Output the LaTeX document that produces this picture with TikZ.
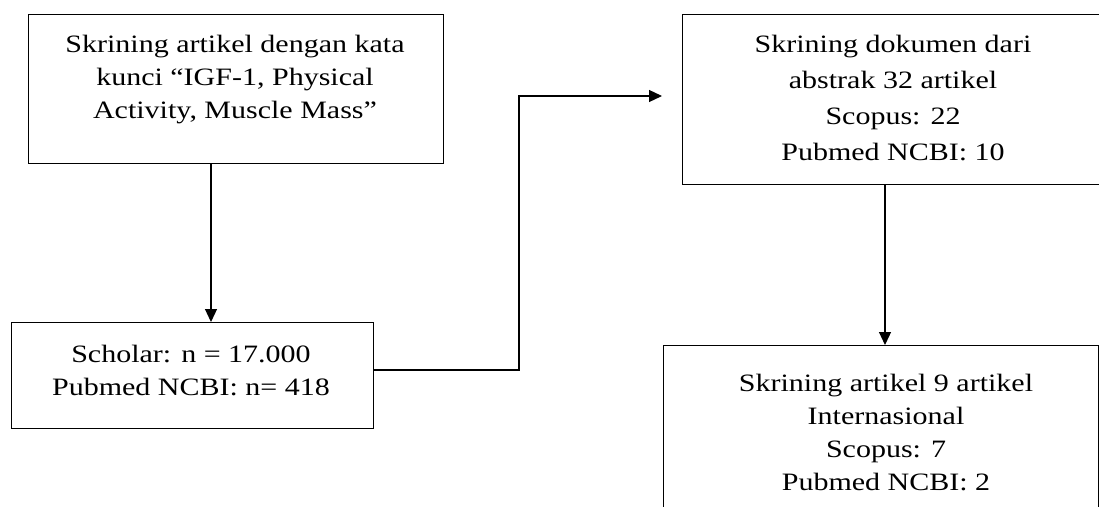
\documentclass[tikz,border=0pt]{standalone}
\usepackage{fontspec}
\setmainfont{Liberation Serif}[FakeStretch=1.2]
\usetikzlibrary{arrows.meta}
\begin{document}
\begin{tikzpicture}[x=1pt,y=-1pt,
  boxed/.style={draw, line width=1.2pt, rectangle, anchor=north west, inner sep=0pt},
  txt/.style={align=center, font=\fontsize{25}{33}\selectfont, inner sep=0pt},
  arr/.style={draw, line width=1.2pt, -{Triangle[length=13pt,width=12pt]}},
  conn/.style={draw, line width=1.2pt}]
\clip (0,0) rectangle (1099,506);
% boxes
\node[boxed, minimum width=415pt, minimum height=149pt] (b1) at (28,14) {};
\node[boxed, minimum width=362pt, minimum height=106pt] (b2) at (11,322) {};
\node[boxed, minimum width=424pt, minimum height=170pt] (b3) at (682,14) {};
\node[boxed, minimum width=435pt, minimum height=200pt] (b4) at (663,345) {};
% texts
\node[txt] (t1) at (235,80) {Skrining artikel dengan kata\\ kunci “IGF-1, Physical\\ Activity, Muscle Mass”};
\node[txt] (t2) at (191,370) {Scholar: n = 17.000\\ Pubmed NCBI: n= 418};
\node[txt, font=\fontsize{25}{36}\selectfont] (t3) at (893,98) {Skrining dokumen dari\\ abstrak 32 artikel\\ Scopus: 22\\ Pubmed NCBI: 10};
\node[txt] (t4) at (886,432) {Skrining artikel 9 artikel\\ Internasional\\ Scopus: 7\\ Pubmed NCBI: 2};
% connector coordinates
\coordinate (c1) at (211,0);
\coordinate (c2) at (0,370);
\coordinate (c3) at (519,0);
\coordinate (c4) at (0,96);
\coordinate (c5) at (662,96);
\coordinate (c6) at (885,0);
% connectors
\path[arr] (b1.south -| c1) -- (b2.north -| c1);
\path[arr] (b2.east |- c2) -- (c3 |- c2) -- (c3 |- c4) -- (c5);
\path[arr] (b3.south -| c6) -- (b4.north -| c6);
\end{tikzpicture}
\end{document}
